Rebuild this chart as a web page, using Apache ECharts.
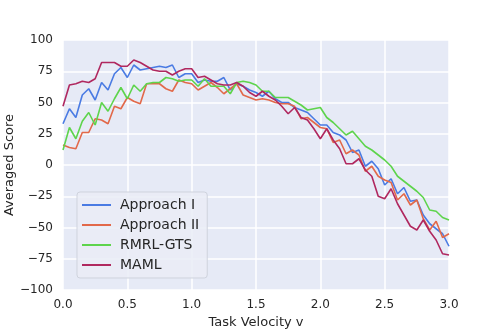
<!DOCTYPE html>
<html>
<head>
<meta charset="utf-8">
<script src="https://cdn.jsdelivr.net/npm/echarts@6/dist/echarts.min.js"></script>
<style>
html, body { margin: 0; padding: 0; background: #fff; }
#chart { width: 498px; height: 332px; }
</style>
</head>
<body>
<div id="chart"></div>
<script>
// task velocity 0 .. 3.0 by 0.05
var velocity = [];
for (var i = 0; i <= 60; i++) velocity.push(+(i * 0.05).toFixed(2));

var approach1 = [33, 45, 38, 56, 61, 52, 66, 60, 73, 78, 70, 80, 76, 77, 78, 79, 78, 80, 70, 73,
    73, 66, 68, 67, 67, 70, 60, 65, 63, 60, 58, 55, 59, 53, 50, 50, 46, 44, 42, 37,
    32, 32, 26, 24, 20, 10, 12, -1, 3, -3, -16, -11, -23, -18, -29, -28, -40, -47, -51, -55, -65];
var approach2 = [16, 14, 13, 26, 26, 37, 36, 33, 47, 45, 54, 51, 49, 65, 65, 65, 61, 59, 68, 66,
    65, 60, 63, 66, 62, 57, 61, 65, 56, 54, 52, 53, 52, 50, 49, 49, 47, 37, 38, 34,
    30, 29, 18, 20, 9, 12, 8, -5, -1, -9, -12, -14, -28, -23, -32, -28, -43, -52, -45, -58, -55];
var rmrlGts = [12, 30, 21, 35, 42, 32, 50, 43, 53, 62, 53, 64, 59, 65, 66, 66, 70, 69, 67, 68,
    68, 63, 69, 63, 63, 63, 57, 66, 67, 66, 64, 59, 59, 54, 54, 54, 51, 48, 44, 45,
    46, 38, 34, 29, 24, 27, 21, 15, 12, 8, 4, -1, -9, -13, -17, -21, -26, -36, -37, -42, -44];
var maml = [47, 64, 65, 67, 66, 69, 82, 82, 82, 79, 79, 84, 82, 79, 76, 75, 75, 72, 75, 77,
    77, 70, 71, 68, 65, 64, 64, 66, 63, 58, 55, 59, 55, 52, 47, 41, 46, 38, 36, 29,
    21, 29, 20, 13, 1, 1, 5, -4, -9, -25, -27, -19, -31, -40, -49, -52, -44, -53, -60, -71, -72];

var seriesNames = ["Approach I", "Approach II", "RMRL-GTS", "MAML"];
var seriesData = [approach1, approach2, rmrlGts, maml];
var colors = ["#4a7be3", "#e2694a", "#5ed44c", "#b0285f"];

function pairs(ys) {
    return ys.map(function(y, i) { return [velocity[i], y]; });
}

var chart = echarts.init(document.getElementById("chart"));
var font = "DejaVu Sans";

chart.setOption({
    animation: false,
    textStyle: { fontFamily: font },
    grid: { left: 63, right: 49, top: 40, bottom: 42, show: true, backgroundColor: "#e6eaf6",
        borderWidth: 0, outerBoundsMode: "none", containLabel: false },
    xAxis: {
        type: "value", min: 0, max: 3, interval: 0.5,
        name: "Task Velocity v", nameLocation: "middle", nameGap: 26, nameMoveOverlap: false,
        nameTextStyle: { fontSize: 13, color: "#262626", fontFamily: font },
        axisLine: { show: false }, axisTick: { show: false },
        axisLabel: { fontSize: 12, color: "#262626", margin: 9, fontFamily: font,
            formatter: function(v) { return v.toFixed(1); } },
        splitLine: { lineStyle: { color: "#ffffff", width: 1.5 } }
    },
    yAxis: {
        type: "value", min: -100, max: 100, interval: 25,
        name: "Averaged Score", nameLocation: "middle", nameGap: 47, nameRotate: 90,
        nameMoveOverlap: false,
        nameTextStyle: { fontSize: 13, color: "#262626", fontFamily: font },
        axisLine: { show: false }, axisTick: { show: false },
        axisLabel: { fontSize: 12, color: "#262626", margin: 10, fontFamily: font,
            formatter: function(v) { return String(v).replace("-", "\u2212"); } },
        splitLine: { lineStyle: { color: "#ffffff", width: 1.5 } }
    },
    legend: {
        orient: "vertical", left: 77, top: 192,
        data: seriesNames,
        icon: "rect", itemWidth: 29, itemHeight: 2, itemGap: 6,
        padding: [6, 8, 6, 5],
        backgroundColor: "rgba(234,236,246,0.85)",
        borderColor: "#cfd3dd", borderWidth: 1, borderRadius: 3,
        textStyle: { fontSize: 14, color: "#262626", fontFamily: font, padding: [0, 0, 0, 4] }
    },
    series: seriesData.map(function(d, k) {
        return {
            name: seriesNames[k], type: "line", data: pairs(d),
            symbol: "none", color: colors[k],
            lineStyle: { width: 1.6, color: colors[k] }
        };
    })
});
</script>
</body>
</html>
